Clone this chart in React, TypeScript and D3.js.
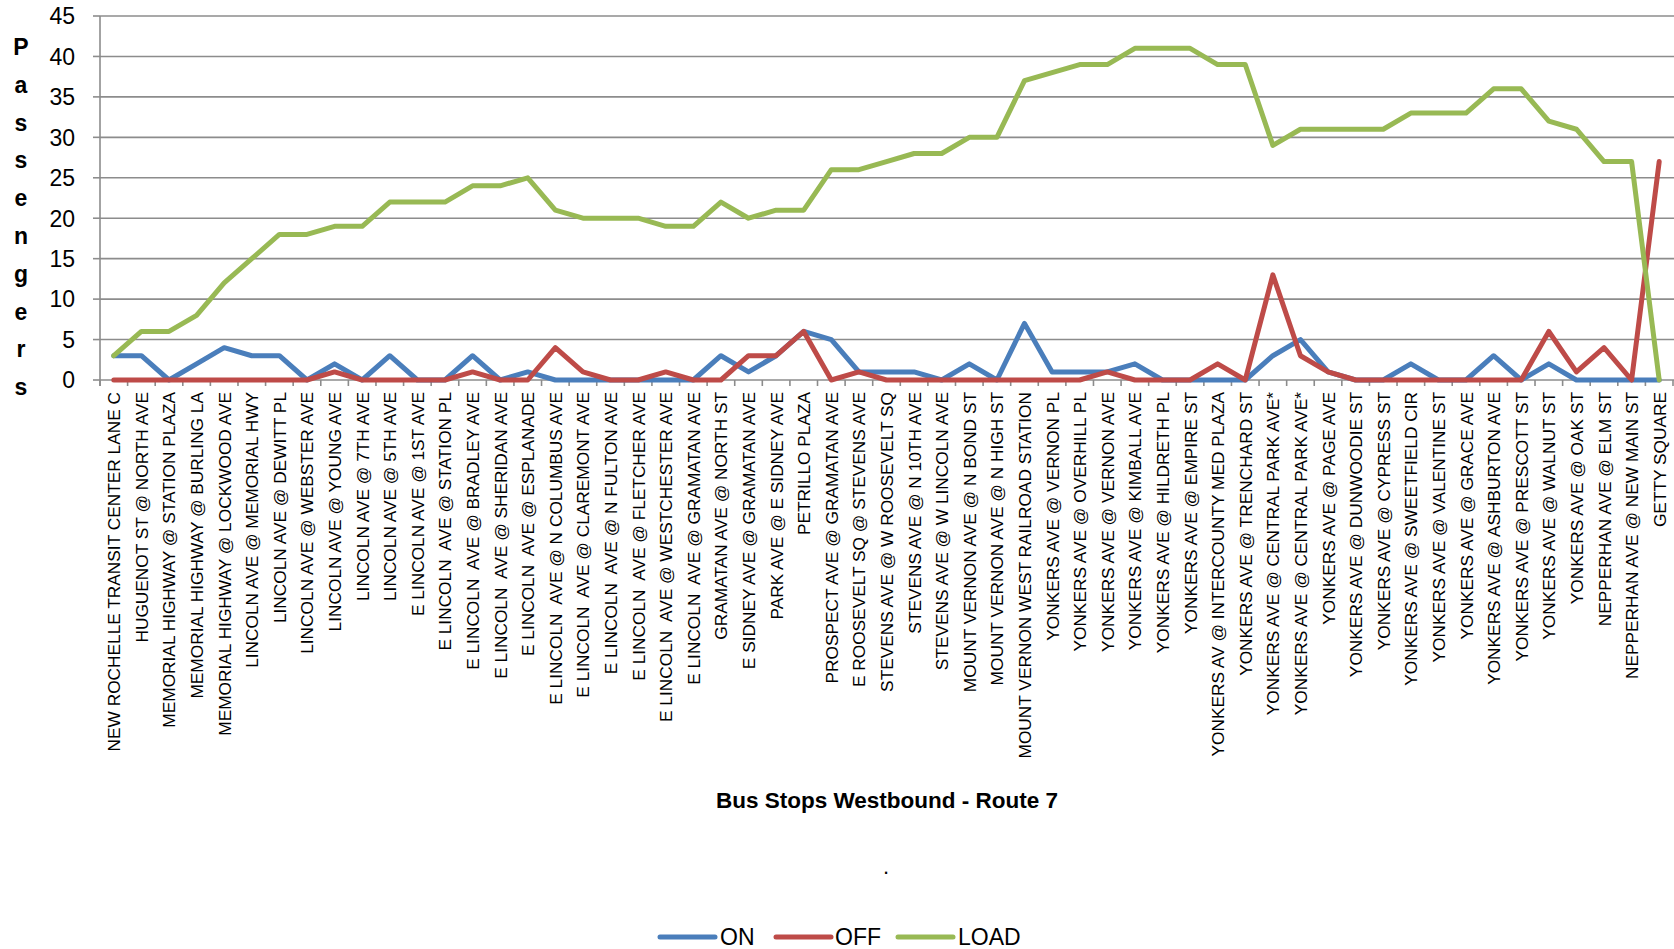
import * as d3 from 'd3';

// Route 7 westbound ride check: boardings, alightings and running load per stop.
const categories = [
  'NEW ROCHELLE TRANSIT CENTER LANE C',
  'HUGUENOT ST @ NORTH AVE',
  'MEMORIAL HIGHWAY @ STATION PLAZA',
  'MEMORIAL HIGHWAY @ BURLING LA',
  'MEMORIAL HIGHWAY @ LOCKWOOD AVE',
  'LINCOLN AVE @ MEMORIAL HWY',
  'LINCOLN AVE @ DEWITT PL',
  'LINCOLN AVE @ WEBSTER AVE',
  'LINCOLN AVE @ YOUNG AVE',
  'LINCOLN AVE @ 7TH AVE',
  'LINCOLN AVE @ 5TH AVE',
  'E LINCOLN AVE @ 1ST AVE',
  'E LINCOLN  AVE @ STATION PL',
  'E LINCOLN  AVE @ BRADLEY AVE',
  'E LINCOLN  AVE @ SHERIDAN AVE',
  'E LINCOLN  AVE @ ESPLANADE',
  'E LINCOLN  AVE @ N COLUMBUS AVE',
  'E LINCOLN  AVE @ CLAREMONT AVE',
  'E LINCOLN  AVE @ N FULTON AVE',
  'E LINCOLN  AVE @ FLETCHER AVE',
  'E LINCOLN  AVE @ WESTCHESTER AVE',
  'E LINCOLN  AVE @ GRAMATAN AVE',
  'GRAMATAN AVE @ NORTH ST',
  'E SIDNEY AVE @ GRAMATAN AVE',
  'PARK AVE @ E SIDNEY AVE',
  'PETRILLO PLAZA',
  'PROSPECT AVE @ GRAMATAN AVE',
  'E ROOSEVELT SQ @ STEVENS AVE',
  'STEVENS AVE @ W ROOSEVELT SQ',
  'STEVENS AVE @ N 10TH AVE',
  'STEVENS AVE @ W LINCOLN AVE',
  'MOUNT VERNON AVE @ N BOND ST',
  'MOUNT VERNON AVE @ N HIGH ST',
  'MOUNT VERNON WEST RAILROAD STATION',
  'YONKERS AVE @ VERNON PL',
  'YONKERS AVE @ OVERHILL PL',
  'YONKERS AVE @ VERNON AVE',
  'YONKERS AVE @ KIMBALL AVE',
  'YONKERS AVE @ HILDRETH PL',
  'YONKERS AVE @ EMPIRE ST',
  'YONKERS AV @ INTERCOUNTY MED PLAZA',
  'YONKERS AVE @ TRENCHARD ST',
  'YONKERS AVE @ CENTRAL PARK AVE*',
  'YONKERS AVE @ CENTRAL PARK AVE*',
  'YONKERS AVE @ PAGE AVE',
  'YONKERS AVE @ DUNWOODIE ST',
  'YONKERS AVE @ CYPRESS ST',
  'YONKERS AVE @ SWEETFIELD CIR',
  'YONKERS AVE @ VALENTINE ST',
  'YONKERS AVE @ GRACE AVE',
  'YONKERS AVE @ ASHBURTON AVE',
  'YONKERS AVE @ PRESCOTT ST',
  'YONKERS AVE @ WALNUT ST',
  'YONKERS AVE @ OAK ST',
  'NEPPERHAN AVE @ ELM ST',
  'NEPPERHAN AVE @ NEW MAIN ST',
  'GETTY SQUARE',
];

const onValues = [
  3, 3, 0, 2, 4, 3, 3, 0, 2, 0, 3, 0, 0, 3, 0, 1, 0, 0, 0, 0, 0, 0, 3, 1, 3, 6, 5, 1, 1,
  1, 0, 2, 0, 7, 1, 1, 1, 2, 0, 0, 0, 0, 3, 5, 1, 0, 0, 2, 0, 0, 3, 0, 2, 0, 0, 0, 0,
];

const offValues = [
  0, 0, 0, 0, 0, 0, 0, 0, 1, 0, 0, 0, 0, 1, 0, 0, 4, 1, 0, 0, 1, 0, 0, 3, 3, 6, 0, 1, 0,
  0, 0, 0, 0, 0, 0, 0, 1, 0, 0, 0, 2, 0, 13, 3, 1, 0, 0, 0, 0, 0, 0, 0, 6, 1, 4, 0, 27,
];

const loadValues = [
  3, 6, 6, 8, 12, 15, 18, 18, 19, 19, 22, 22, 22, 24, 24, 25, 21, 20, 20, 20, 19, 19, 22,
  20, 21, 21, 26, 26, 27, 28, 28, 30, 30, 37, 38, 39, 39, 41, 41, 41, 39, 39, 29, 31, 31,
  31, 31, 33, 33, 33, 36, 36, 32, 31, 27, 27, 0,
];

const yTicks = [0, 5, 10, 15, 20, 25, 30, 35, 40, 45];

const series = [
  { name: 'ON', values: onValues, color: '#4A7EBB' },
  { name: 'OFF', values: offValues, color: '#BE4B48' },
  { name: 'LOAD', values: loadValues, color: '#98B954' },
];

const FONT = "'Liberation Sans', Arial, sans-serif";
const GRID = '#8c8c8c';

export default function App() {
  const width = 1674;
  const height = 949;
  const plot = { left: 100, right: 1673, top: 16, bottom: 380 };

  const x = d3
    .scaleBand<number>()
    .domain(d3.range(categories.length))
    .range([plot.left, plot.right]);
  const bw = x.bandwidth();
  const cx = (i: number) => (x(i) ?? 0) + bw / 2;

  const y = d3.scaleLinear().domain([0, 45]).range([plot.bottom, plot.top]);

  const line = d3
    .line<number>()
    .x((_, i) => cx(i))
    .y((d) => y(d));

  // stacked, one letter per line like the spreadsheet axis title
  const yTitle = 'Passengers'.split('');

  const legendItems = [
    { x0: 660, tx: 720 },
    { x0: 776, tx: 835 },
    { x0: 898, tx: 958 },
  ];

  return (
    <svg
      width={width}
      height={height}
      style={{ position: 'absolute', left: 0, top: 0, background: '#fff' }}
      fontFamily={FONT}
    >
      {/* horizontal gridlines */}
      {yTicks.map((t) => (
        <line
          key={`g${t}`}
          x1={plot.left}
          x2={width}
          y1={y(t)}
          y2={y(t)}
          stroke={GRID}
          strokeWidth={1.6}
        />
      ))}

      {/* y axis line + ticks */}
      <line x1={plot.left} x2={plot.left} y1={plot.top} y2={plot.bottom + 6} stroke={GRID} strokeWidth={1.6} />
      {yTicks.map((t) => (
        <line key={`yt${t}`} x1={plot.left - 7} x2={plot.left} y1={y(t)} y2={y(t)} stroke={GRID} strokeWidth={1.6} />
      ))}
      {yTicks.map((t) => (
        <text key={`yl${t}`} x={75} y={y(t)} dy="0.36em" textAnchor="end" fontSize={23} fill="#000">
          {t}
        </text>
      ))}

      {/* category ticks at band boundaries */}
      {d3.range(categories.length + 1).map((i) => {
        const xx = plot.left + i * bw;
        return <line key={`xt${i}`} x1={xx} x2={xx} y1={plot.bottom} y2={plot.bottom + 6} stroke={GRID} strokeWidth={1.6} />;
      })}

      {/* category labels, rotated */}
      {categories.map((c, i) => (
        <text
          key={`c${i}`}
          transform={`translate(${cx(i) + 6.5},${plot.bottom + 12}) rotate(-90)`}
          textAnchor="end"
          fontSize={17.3}
          fill="#000"
          style={{ whiteSpace: 'pre' }}
        >
          {c}
        </text>
      ))}

      {/* series */}
      {series.map((s) => (
        <path
          key={s.name}
          d={line(s.values) ?? ''}
          fill="none"
          stroke={s.color}
          strokeWidth={5}
          strokeLinejoin="round"
          strokeLinecap="round"
        />
      ))}

      {/* y axis title */}
      <text x={21} y={55} textAnchor="middle" fontSize={23} fontWeight="bold" fill="#000">
        {yTitle.map((ch, i) => (
          <tspan key={i} x={21} y={55 + i * 37.8}>
            {ch}
          </tspan>
        ))}
      </text>

      {/* x axis title */}
      <text x={887} y={808} textAnchor="middle" fontSize={22.5} fontWeight="bold" fill="#000">
        Bus Stops Westbound - Route 7
      </text>
      <text x={886} y={874} textAnchor="middle" fontSize={22} fill="#000">
        .
      </text>

      {/* legend */}
      {series.map((s, i) => (
        <g key={`lg${s.name}`}>
          <line
            x1={legendItems[i].x0}
            x2={legendItems[i].x0 + 55}
            y1={937}
            y2={937}
            stroke={s.color}
            strokeWidth={5}
            strokeLinecap="round"
          />
          <text x={legendItems[i].tx} y={945} fontSize={23} fill="#000">
            {s.name}
          </text>
        </g>
      ))}
    </svg>
  );
}
